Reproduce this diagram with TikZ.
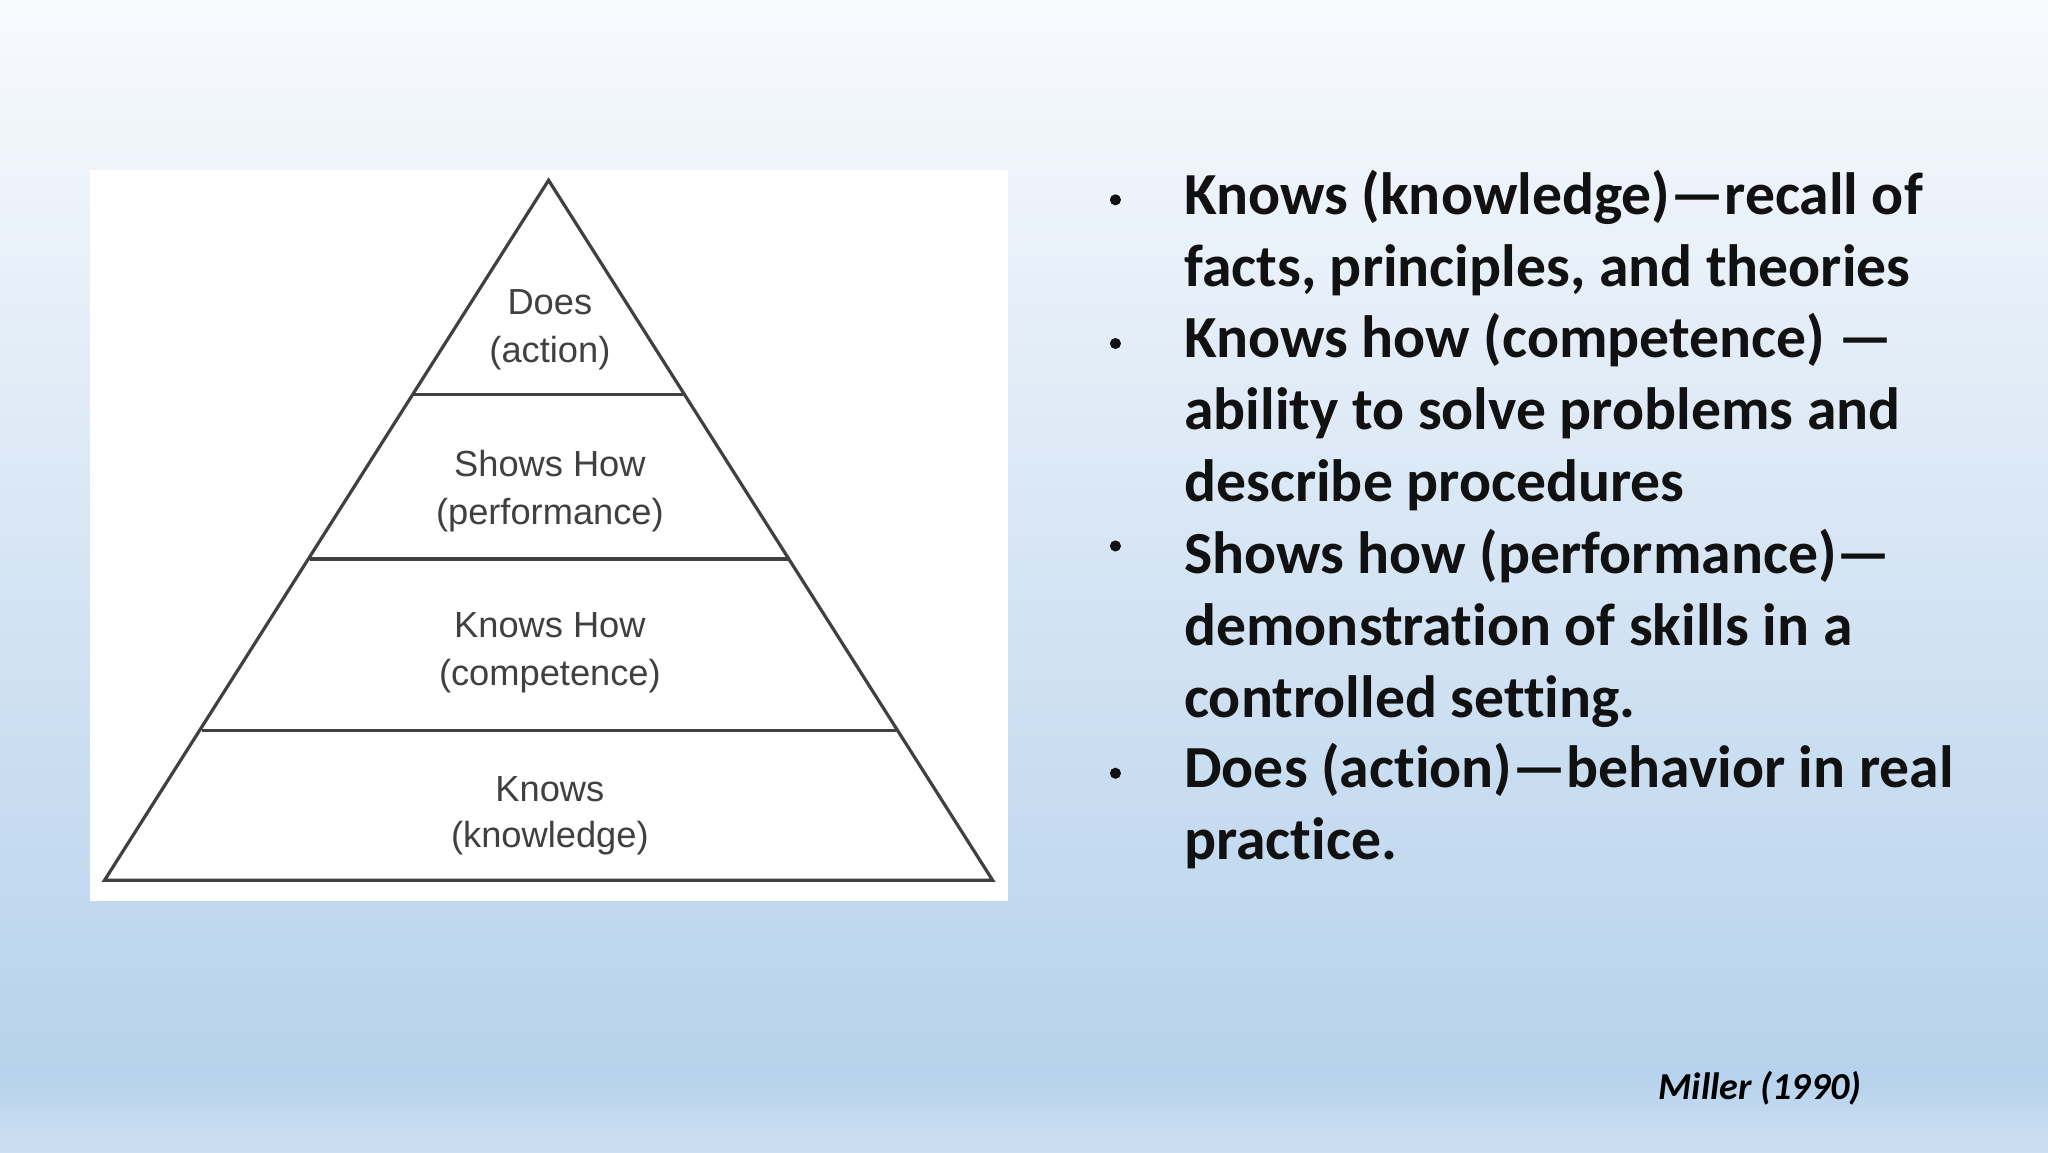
\documentclass[tikz,border=0pt]{standalone}
\usepackage{fontspec}
\setmainfont[Ligatures=NoCommon]{Carlito}
\newfontfamily\arialf{Liberation Sans}
\definecolor{bgtop}{HTML}{F8FAFD}
\definecolor{bgbot}{HTML}{B7D2EC}
\definecolor{txt}{HTML}{111111}
\begin{document}
\begin{tikzpicture}[x=1cm,y=1cm,
  plab/.style={font=\arialf\fontsize{7.9}{10}\selectfont, text=black!75, inner sep=0},
  bl/.style={font=\bfseries\fontsize{13.0}{16}\selectfont, text=txt, anchor=base west, inner sep=0},
  bul/.style={circle, fill=txt, inner sep=0, minimum size=0.085cm},
  pl/.style={black!75, line width=0.7pt}]
\shade[top color=bgtop, bottom color=bgbot] (0,0.6) rectangle (15.68,8.82);
\shade[top color=bgbot, bottom color=bgbot!70!white] (0,0) rectangle (15.68,0.6);
\useasboundingbox (0,0) rectangle (15.68,8.82);
\fill[white] (0.69,1.92) rectangle (7.72,7.52);
\coordinate (apex) at (4.20,7.44);
\coordinate (bl) at (0.80,2.08);
\coordinate (br) at (7.60,2.08);
\draw[pl, line join=miter] (apex) -- (bl) -- (br) -- cycle;
\coordinate (l1a) at (3.16,5.80); \coordinate (l1b) at (5.23,5.80);
\coordinate (l2a) at (2.37,4.54); \coordinate (l2b) at (6.04,4.54);
\coordinate (l3a) at (1.55,3.23); \coordinate (l3b) at (6.86,3.23);
\draw[pl] (l1a) -- (l1b); \draw[pl] (l2a) -- (l2b); \draw[pl] (l3a) -- (l3b);
\node[plab] (d1) at (4.21,6.51) {Does};
\node[plab] (d2) at (4.21,6.12) {(action)};
\node[plab] (s1) at (4.21,5.27) {Shows How};
\node[plab] (s2) at (4.21,4.88) {(performance)};
\node[plab] (k1) at (4.21,4.03) {Knows How};
\node[plab] (k2) at (4.21,3.64) {(competence)};
\node[plab] (n1) at (4.21,2.78) {Knows};
\node[plab] (n2) at (4.21,2.40) {(knowledge)};
\foreach \n/\y in {b1/7.18,b2/6.08,b3/4.53,b4/2.79}{\node[bul] (\n) at (8.54,\y+0.11) {};}
\node[bl] (t1) at (9.06,7.18) {Knows (knowledge)—recall of};
\node[bl] (t2) at (9.06,6.63) {facts, principles, and theories};
\node[bl] (t3) at (9.06,6.08) {Knows how (competence) —};
\node[bl] (t4) at (9.06,5.53) {ability to solve problems and};
\node[bl] (t5) at (9.06,4.98) {describe procedures};
\node[bl] (t6) at (9.06,4.43) {Shows how (performance)—};
\node[bl] (t7) at (9.06,3.88) {demonstration of skills in a};
\node[bl] (t8) at (9.06,3.33) {controlled setting.};
\node[bl] (t9) at (9.06,2.79) {Does (action)—behavior in real};
\node[bl] (t10) at (9.06,2.24) {practice.};
\node[font=\bfseries\itshape\fontsize{8.3}{10}\selectfont, anchor=base east, inner sep=0] (m) at (14.26,0.40) {Miller (1990)};
\end{tikzpicture}
\end{document}
